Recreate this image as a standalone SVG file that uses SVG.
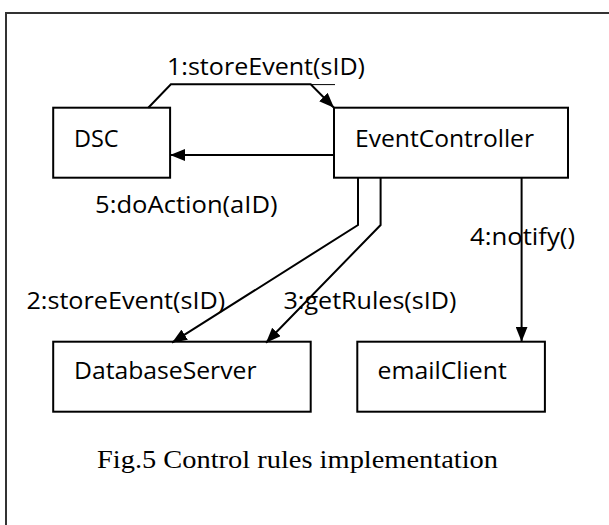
<svg xmlns="http://www.w3.org/2000/svg" width="609" height="525" viewBox="0 0 609 525">
<style>
.box{fill:#fff;stroke:#000;stroke-width:2}
.lbl{font-family:"Open Sans","Liberation Sans",sans-serif;font-size:23px;fill:#000}
.cap{font-family:"Liberation Serif","Times New Roman",serif;font-size:26px;fill:#000}
.con{fill:none;stroke:#000;stroke-width:2}
</style>
<defs>
<marker id="ah" markerUnits="userSpaceOnUse" markerWidth="16" markerHeight="12" refX="15" refY="6" orient="auto">
<path d="M0,0 L15,6 L0,12 z" fill="#000"/>
</marker>
</defs>
<rect x="0" y="0" width="609" height="525" fill="#fff"/>
<path d="M609,13 H6 V525" fill="none" stroke="#333" stroke-width="2"/>
<g id="DSC">
<rect class="box" x="53.2" y="107.7" width="116.9" height="70"/>
<text class="lbl" x="74" y="146.7" textLength="44.6" lengthAdjust="spacingAndGlyphs">DSC</text>
</g>
<g id="EventController">
<rect class="box" x="334" y="107.7" width="234" height="70"/>
<text class="lbl" x="355" y="146.7" textLength="179" lengthAdjust="spacingAndGlyphs">EventController</text>
</g>
<g id="DatabaseServer">
<rect class="box" x="53.2" y="341.7" width="257.5" height="70"/>
<text class="lbl" x="74" y="379.3" textLength="182.5" lengthAdjust="spacingAndGlyphs">DatabaseServer</text>
</g>
<g id="emailClient">
<rect class="box" x="357.3" y="341.7" width="187.6" height="70"/>
<text class="lbl" x="377.5" y="379.3" textLength="129.3" lengthAdjust="spacingAndGlyphs">emailClient</text>
</g>
<g id="connectors">
<polyline class="con" points="148.3,107.7 170.9,84.3 310.7,84.3 334,107.7" marker-end="url(#ah)"/>
<line x1="310.7" y1="84.6" x2="335" y2="84.6" stroke="#000" stroke-width="1"/>
<line class="con" x1="334" y1="155" x2="170.1" y2="155" marker-end="url(#ah)"/>
<polyline class="con" points="358,177.7 358,225 172,342.7" marker-end="url(#ah)"/>
<polyline class="con" points="380.6,177.7 380.6,225 266,342.7" marker-end="url(#ah)"/>
<line class="con" x1="521.6" y1="177.7" x2="521.6" y2="341.7" marker-end="url(#ah)"/>
<text class="lbl" x="167" y="75" textLength="198" lengthAdjust="spacingAndGlyphs">1:storeEvent(sID)</text>
<text class="lbl" x="95.1" y="213.3" textLength="182.5" lengthAdjust="spacingAndGlyphs">5:doAction(aID)</text>
<text class="lbl" x="470" y="245" textLength="105" lengthAdjust="spacingAndGlyphs">4:notify()</text>
<text class="lbl" x="26.4" y="309.3" textLength="198.8" lengthAdjust="spacingAndGlyphs">2:storeEvent(sID)</text>
<text class="lbl" x="283.5" y="309.3" textLength="172.8" lengthAdjust="spacingAndGlyphs">3:getRules(sID)</text>
</g>
<text class="cap" x="97" y="468" textLength="401" lengthAdjust="spacingAndGlyphs">Fig.5 Control rules implementation</text>
</svg>
